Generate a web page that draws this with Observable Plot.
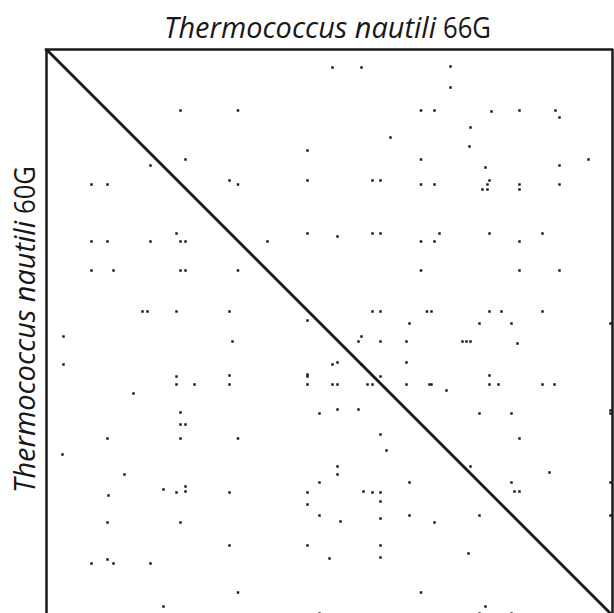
<!DOCTYPE html>
<html><head><meta charset="utf-8">
<script src="https://cdn.jsdelivr.net/npm/d3@7"></script>
<script src="https://cdn.jsdelivr.net/npm/@observablehq/plot@0.6"></script>
<style>body{margin:0;background:#fff}</style>
</head><body><div id="chart"></div>
<script>
// Genome lengths in relative position bins (x: 66G, y: 60G)
const genomeX = 566;
const genomeY = 566;
const xLabel = ["Thermococcus nautili", "66G"];
const yLabel = ["Thermococcus nautili", "60G"];

// Matching hits [position in 66G, position in 60G]
const upperHits = [
  [134,61],[191.5,61],[139,110],[104,116],[45,135],[61,135],[183,131],[191.5,135],[130,184],
  [286,18],[315,18],[374.5,61],[344,88],[261,101],[374.5,110],[261,131],[326,131],[334,131],[374.5,135],[261,184],[291,187],[326,184],[334,184],
  [404,17],[404,38],[388,61],[445,62],[473,61],[509,61],[513,68],[424,78],[423,97],[542,110],[513,116],[439,118],[443,131],[441,135],[436,140],[441,140],[388,135],[473,135],[473,140],[513,135],[393,184],[443,184],[496,184]
];
const middleHits = [
  [45,192],[61,192],[104,192],[134,192],[139,192],[45,221],[67,221],[134,221],[139,221],[191.5,221],[96,262],[101,262],[130,262],[183,262],[17,287],[186,292],[17,315],[130,327],[183,326],[130,335],[148,335],[183,335],[87,344],[134,363],[134,375],[139,375],
  [221,192],[374.5,192],[374.5,221],[326,262],[334,262],[380.5,262],[261,271],[363,274],[315,287],[312,292],[334,292],[360,292],[360,313],[291,313],[286,315],[315,315],[261,325],[261,327],[334,327],[261,335],[286,335],[291,335],[321,335],[326,335],[360,335],[383,335],[273,364],[291,360],[312,360],
  [388,192],[473,192],[473,221],[513,221],[385,262],[443,262],[455,262],[496,262],[433,274],[465,274],[564,274],[416,292],[420,292],[424,292],[471,294],[443,326],[385,335],[443,335],[452,335],[496,335],[508,335],[400,341],[433,364],[465,364],[564,361],[564,364]
];
const lowerHits = [
  [61,389],[134,389],[191.5,389],[16,405],[78,425],[117,440],[139,437],[130,443],[139,442],[183,443],[62,446],[61,473],[134,473],[183,496],[61,510],[45,514],[67,514],[104,514],[191.5,543],[117,557],
  [334,385],[340,401],[291,417],[291,425],[273,433],[363,433],[261,443],[317,442],[326,443],[334,443],[334,452],[261,455],[273,466],[294,472],[334,469],[363,466],[261,496],[334,496],[283,509],[334,508],[374.5,543],
  [473,389],[424,417],[503,423],[465,433],[468,442],[473,442],[564,433],[433,466],[564,466],[388,473],[422,504],[439,557],
  [273,564],[433,564],[465,564]
];

const hits = [...upperHits, ...middleHits, ...lowerHits].map(([x, y]) => ({x, y}));
const diagonal = [{x1: 0, y1: 0, x2: genomeX, y2: genomeY}];
const ink = "#1a1718";

const chart = Plot.plot({
  width: 614, height: 613,
  marginLeft: 46, marginRight: 2, marginTop: 49, marginBottom: 0,
  x: {domain: [0, genomeX], range: [46, 612], axis: null},
  y: {domain: [0, genomeY], range: [49, 615], axis: null},
  marks: [
    Plot.dot(hits, {x: "x", y: "y", symbol: "square", r: 1.4, fill: ink, stroke: null}),
    Plot.link(diagonal, {x1: "x1", y1: "y1", x2: "x2", y2: "y2", stroke: ink, strokeWidth: 2.8}),
    Plot.ruleX([0, genomeX], {stroke: ink, strokeWidth: 2.5}),
    Plot.ruleY([0], {stroke: ink, strokeWidth: 2.5, strokeLinecap: "square"})
  ]
});
document.getElementById("chart").appendChild(chart);

const svg = d3.select(chart);
const font = "'Open Sans', 'DejaVu Sans', sans-serif";
function label(g, parts) {
  g.append("text")
    .attr("x", 109).attr("text-anchor", "end")
    .style("font-family", font).style("font-size", "30px").style("font-style", "italic")
    .attr("fill", ink)
    .attr("textLength", 272).attr("lengthAdjust", "spacingAndGlyphs")
    .text(parts[0]);
  g.append("text")
    .attr("x", 116).attr("text-anchor", "start")
    .style("font-family", font).style("font-size", "29px").style("font-style", "normal")
    .attr("fill", ink)
    .attr("textLength", 48).attr("lengthAdjust", "spacingAndGlyphs")
    .text(parts[1]);
}
label(svg.append("g").attr("transform", "translate(327,38)"), xLabel);
label(svg.append("g").attr("transform", "translate(35,330) rotate(-90)"), yLabel);
</script>
</body></html>
